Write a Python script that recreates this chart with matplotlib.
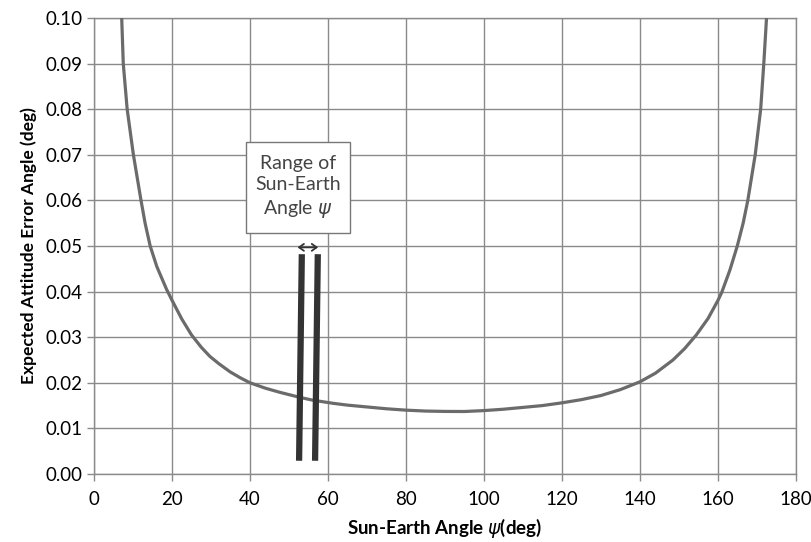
import matplotlib
matplotlib.use("Agg")
import matplotlib.pyplot as plt
from matplotlib.patches import Rectangle

plt.rcParams["font.family"] = ["Lato", "DejaVu Sans"]

# curve (deg, deg)
psi = [7.1, 7.5, 8.5, 10.1, 12.05, 13.1, 14.4, 16.1, 18.6, 20.0, 22.5, 25.0,
       27.5, 29.7, 32.0, 34.9, 37.5, 40.0, 44.0, 47.7, 52.8, 56.0, 61.3, 65.0,
       70.0, 75.0, 80.0, 85.0, 90.0, 95.0, 100.0, 105.0, 110.0, 115.0, 120.0,
       125.0, 130.0, 135.0, 140.0, 144.0, 148.5, 151.5, 154.5, 157.5, 160.0,
       161.0, 163.1, 165.0, 166.5, 167.7, 169.6, 171.0, 171.8, 172.5]
err = [0.100, 0.090, 0.080, 0.070, 0.060, 0.055, 0.050, 0.0455, 0.0405,
       0.0381, 0.0340, 0.0305, 0.0278, 0.0258, 0.0242, 0.0224, 0.0211, 0.0200,
       0.0188, 0.0179, 0.0168, 0.0162, 0.0155, 0.0151, 0.0147, 0.0143, 0.0140,
       0.0138, 0.01372, 0.0137, 0.0139, 0.0142, 0.0146, 0.0150, 0.0156,
       0.0163, 0.0172, 0.0185, 0.0202, 0.0221, 0.0250, 0.0275, 0.0305, 0.0341,
       0.0380, 0.0398, 0.0447, 0.050, 0.055, 0.060, 0.070, 0.080, 0.090, 0.100]

# two marker bars showing the range of the sun-earth angle
bar_x_bottom = [52.6, 56.7]
bar_x_top = [53.3, 57.4]
bar_y = [0.0029, 0.0482]
arrow_x = [52.2, 57.5]
arrow_y = 0.0497

# note box (deg, deg)
box_x = [39.0, 65.6]
box_y = [0.0528, 0.0728]
note = "Range of\nSun-Earth\nAngle $\\psi$"

fig = plt.figure(figsize=(8.12, 5.42), dpi=100)
ax = fig.add_axes([0.1158, 0.1255, 0.8642, 0.8413])

ax.plot(psi, err, color="#6b6b6b", lw=2.3, solid_joinstyle="round", zorder=3)

for xb, xt in zip(bar_x_bottom, bar_x_top):
    ax.plot([xb, xt], bar_y, color="#333333", lw=4.5, solid_capstyle="butt", zorder=4)

ax.annotate("", xy=(arrow_x[0], arrow_y), xytext=(arrow_x[1], arrow_y),
            arrowprops=dict(arrowstyle="<->,head_length=0.35,head_width=0.25",
                            color="#333333", lw=1.3, shrinkA=0, shrinkB=0),
            zorder=5)

ax.add_patch(Rectangle((box_x[0], box_y[0]), box_x[1] - box_x[0], box_y[1] - box_y[0],
                       fc="white", ec="#777777", lw=1, zorder=5))
ax.text(sum(box_x) / 2, sum(box_y) / 2, note, ha="center", va="center",
        fontsize=14, color="#444444", linespacing=1.3, zorder=6)

ax.set_xlim(0, 180)
ax.set_ylim(0, 0.10)
ax.set_xticks(range(0, 181, 20))
ax.set_yticks([i / 100 for i in range(11)])
ax.set_yticklabels([f"{i / 100:.2f}" for i in range(11)])
ax.grid(True, color="#8a8a8a", lw=1)
ax.set_axisbelow(True)
for s in ax.spines.values():
    s.set_color("#8a8a8a")
    s.set_linewidth(1)
ax.tick_params(axis="both", colors="#8a8a8a", labelcolor="black", labelsize=13.5,
               length=5, width=1, direction="out")
ax.tick_params(axis="x", pad=7)

ax.set_xlabel("Sun-Earth Angle $\\psi$(deg)", fontsize=13.5, fontweight="bold", labelpad=6)
ax.set_ylabel("Expected Attitude Error Angle (deg)", fontsize=12.5, fontweight="bold", labelpad=6)

fig.savefig("out.png", dpi=100, facecolor="white")
